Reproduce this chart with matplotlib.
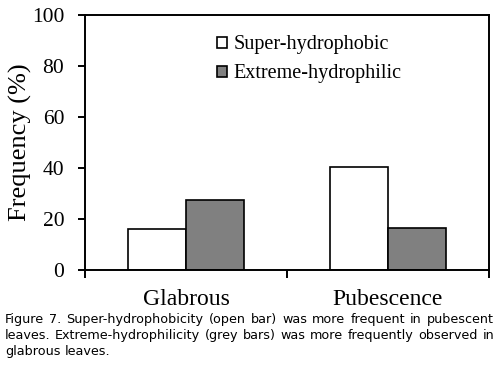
import matplotlib
matplotlib.use("Agg")
import matplotlib.pyplot as plt
import numpy as np

# values
categories = ["Glabrous", "Pubescence"]
super_hydrophobic = [16.1, 40.5]
extreme_hydrophilic = [27.5, 16.3]
series_labels = ["Super-hydrophobic", "Extreme-hydrophilic"]
y_ticks = [0, 20, 40, 60, 80, 100]

caption_lines = [
    "Figure 7. Super-hydrophobicity (open bar) was more frequent in pubescent",
    "leaves. Extreme-hydrophilicity (grey bars) was more frequently observed in",
    "glabrous leaves.",
]

SERIF = "Liberation Serif"
SANS = "DejaVu Sans"
CAPTION_SIZE = 9.2

fig = plt.figure(figsize=(5.0, 3.65), dpi=100)
ax = fig.add_axes([0.17, 0.2603, 0.808, 0.6986])

x = np.arange(len(categories))
width = 0.287
ax.bar(x - width / 2, super_hydrophobic, width, color="white",
       edgecolor="black", linewidth=1.2, label=series_labels[0])
ax.bar(x + width / 2, extreme_hydrophilic, width, color="#808080",
       edgecolor="black", linewidth=1.2, label=series_labels[1])

ax.set_xlim(-0.5, len(categories) - 0.5)
ax.set_ylim(0, 100)
for side in ax.spines.values():
    side.set_linewidth(1.4)

ax.set_yticks(y_ticks)
ax.set_yticklabels([str(v) for v in y_ticks], fontfamily=SERIF, fontsize=15.5)
ax.tick_params(axis="y", direction="out", length=5, width=1.4, pad=10)

ax.set_xticks(x)
ax.set_xticklabels(categories, fontfamily=SERIF, fontsize=17)
ax.set_xticks(np.arange(len(categories) + 1) - 0.5, minor=True)
ax.tick_params(axis="x", which="major", length=0, pad=14)
ax.tick_params(axis="x", which="minor", direction="out", length=6, width=1.4)

ax.set_ylabel("Frequency (%)", fontfamily=SERIF, fontsize=19, labelpad=0)

ax.legend(loc="upper left", bbox_to_anchor=(0.327, 0.92), frameon=False,
          prop={"family": SERIF, "size": 14.5}, handlelength=0.5,
          handleheight=0.5, handletextpad=0.3, labelspacing=0.5, borderpad=0,
          borderaxespad=0)


def justify_line(words, y_px, x0, x1, stretch=True):
    """Place words on one caption line, spread from x0 to x1 (pixels)."""
    renderer = fig.canvas.get_renderer()
    texts = [fig.text(0, 0, w, fontfamily=SANS, fontsize=CAPTION_SIZE,
                      va="baseline") for w in words]
    widths = [t.get_window_extent(renderer).width for t in texts]
    probe = fig.text(0, 0, "a a", fontfamily=SANS, fontsize=CAPTION_SIZE)
    probe2 = fig.text(0, 0, "aa", fontfamily=SANS, fontsize=CAPTION_SIZE)
    sp = (probe.get_window_extent(renderer).width
          - probe2.get_window_extent(renderer).width)
    probe.remove()
    probe2.remove()
    if stretch and len(words) > 1:
        gap = (x1 - x0 - sum(widths)) / (len(words) - 1)
    else:
        gap = sp
    pos = x0
    W, H = fig.bbox.width, fig.bbox.height
    for t, w in zip(texts, widths):
        t.set_position((pos / W, 1 - y_px / H))
        pos += w + gap


fig.canvas.draw()
baselines = [323, 339, 355]
for i, line in enumerate(caption_lines):
    justify_line(line.split(), baselines[i], 5, 494,
                 stretch=i < len(caption_lines) - 1)

fig.savefig("out.png", dpi=100)
